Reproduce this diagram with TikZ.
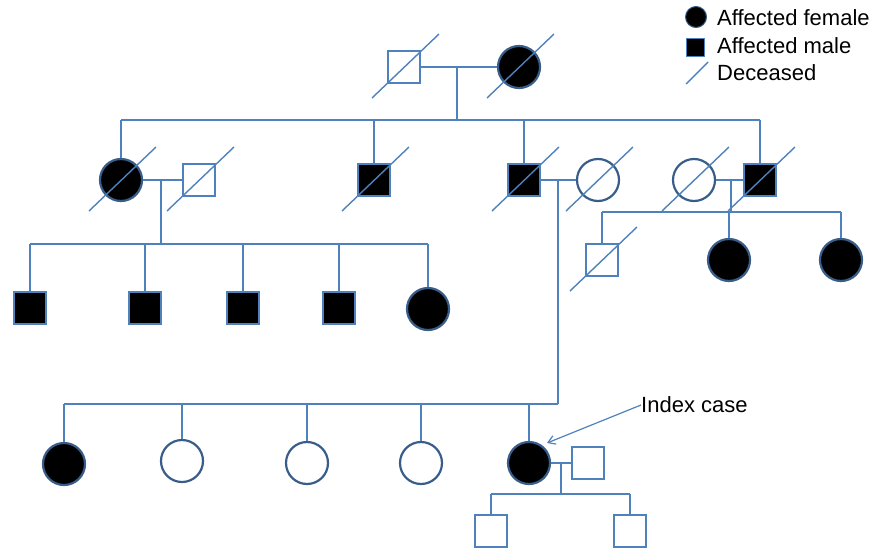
\documentclass[tikz,border=0pt]{standalone}
\usepackage{fontspec}
\setmainfont{Liberation Sans}
\usetikzlibrary{arrows.meta}
\definecolor{lineblue}{HTML}{4F81BD}
\definecolor{darkblue}{HTML}{385D8A}
\tikzset{
  conn/.style={draw=lineblue, line width=1.4pt},
  slash/.style={draw=lineblue, line width=1.4pt},
  male/.style={rectangle, draw=lineblue, line width=2.2pt, fill=white, minimum size=32pt, inner sep=0pt},
  fem/.style={circle, draw=darkblue, line width=2.2pt, fill=white, minimum size=42pt, inner sep=0pt},
  aff/.style={fill=black},
  lbl/.style={font=\fontsize{22}{26}\selectfont, anchor=west, inner sep=0pt}
}
\newcommand{\dead}[1]{\draw[slash] ([shift={(-32,31)}]#1.center) -- ([shift={(35,-33)}]#1.center);}
\begin{document}
\begin{tikzpicture}[x=1pt,y=-1pt]
\useasboundingbox (0,0) rectangle (878,549);
% coordinates of junctions
\coordinate (m1) at (457,67);
\coordinate (s1l) at (121,120);
\coordinate (s1r) at (760,120);
\coordinate (s1m) at (457,120);
\coordinate (m2) at (161,180);
\coordinate (s2m) at (161,244);
\coordinate (s2l) at (30,244);
\coordinate (s2r) at (428,244);
\coordinate (m3) at (558,180);
\coordinate (s3m) at (558,404);
\coordinate (s3l) at (64,404);
\coordinate (m4) at (731,180);
\coordinate (s4m) at (731,212);
\coordinate (s4l) at (602,212);
\coordinate (s4r) at (841,212);
\coordinate (m5) at (561,463);
\coordinate (s5m) at (561,494);
\coordinate (s5l) at (491,494);
\coordinate (s5r) at (630,494);

% connectors (drawn first)
\draw[conn] (s1l) -- (s1r);
\draw[conn] (m1) -- (s1m);
\draw[conn] (s2l) -- (s2r);
\draw[conn] (m2) -- (s2m);
\draw[conn] (s3l) -- (s3m);
\draw[conn] (m3) -- (s3m);
\draw[conn] (s4l) -- (s4r);
\draw[conn] (m4) -- (s4m);
\draw[conn] (s5l) -- (s5r);
\draw[conn] (m5) -- (s5m);

% Generation I
\node[male] (I1) at (404,67) {};
\node[fem,aff] (I2) at (519,67) {};
\draw[conn] (I1) -- (I2);
\dead{I1}
\dead{I2}

% Generation II
\node[fem,aff] (II1) at (121,180) {};
\node[male] (II2) at (199,180) {};
\node[male,aff] (II3) at (374,180) {};
\node[male,aff] (II4) at (524,180) {};
\node[fem] (II5) at (598,180) {};
\node[fem] (II6) at (694,180) {};
\node[male,aff] (II7) at (760,180) {};
\draw[conn] (II1) -- (II2);
\draw[conn] (II4) -- (II5);
\draw[conn] (II6) -- (II7);
\draw[conn] (s1l) -- (II1);
\draw[conn] (II3 |- s1l) -- (II3);
\draw[conn] (II4 |- s1l) -- (II4);
\draw[conn] (s1r) -- (II7);
\dead{II1}
\dead{II2}
\dead{II3}
\dead{II4}
\dead{II5}
\dead{II6}
\dead{II7}

% Generation III left
\node[male,aff] (III1) at (30,308) {};
\node[male,aff] (III2) at (145,308) {};
\node[male,aff] (III3) at (243,308) {};
\node[male,aff] (III4) at (339,308) {};
\node[fem,aff] (III5) at (428,309) {};
\draw[conn] (s2l) -- (III1);
\draw[conn] (III2 |- s2l) -- (III2);
\draw[conn] (III3 |- s2l) -- (III3);
\draw[conn] (III4 |- s2l) -- (III4);
\draw[conn] (s2r) -- (III5);

% Generation III right
\node[male] (III6) at (602,260) {};
\node[fem,aff] (III7) at (729,260) {};
\node[fem,aff] (III8) at (841,260) {};
\draw[conn] (s4l) -- (III6);
\draw[conn] (III7 |- s4l) -- (III7);
\draw[conn] (s4r) -- (III8);
\dead{III6}

% Generation IV
\node[fem,aff] (IV1) at (64,464) {};
\node[fem] (IV2) at (182,461) {};
\node[fem] (IV3) at (307,463) {};
\node[fem] (IV4) at (421,463) {};
\node[fem,aff] (IV5) at (529,463) {};
\node[male] (IV6) at (588,463) {};
\draw[conn] (s3l) -- (IV1);
\draw[conn] (IV2 |- s3l) -- (IV2);
\draw[conn] (IV3 |- s3l) -- (IV3);
\draw[conn] (IV4 |- s3l) -- (IV4);
\draw[conn] (IV5 |- s3l) -- (IV5);
\draw[conn] (IV5) -- (IV6);

% Generation V
\node[male] (V1) at (491,531) {};
\node[male] (V2) at (630,531) {};
\draw[conn] (s5l) -- (V1);
\draw[conn] (s5r) -- (V2);

% Index case
\node[lbl] (idx) at (641,405) {Index case};
\draw[conn, line width=1.2pt, -{Straight Barb[length=7pt,width=9pt]}] (idx.west) -- (547,443);

% Legend
\node[circle, fill=black, draw=darkblue, line width=1pt, minimum size=21pt, inner sep=0pt] (lg1) at (696,17) {};
\node[rectangle, fill=black, draw=lineblue, line width=1pt, minimum size=18pt, inner sep=0pt] (lg2) at (695,47) {};
\coordinate (lg3a) at (686,84);
\coordinate (lg3b) at (708,62);
\draw[slash] (lg3a) -- (lg3b);
\node[lbl] (t1) at (717,18) {Affected female};
\node[lbl] (t2) at (717,46) {Affected male};
\node[lbl] (t3) at (717,73) {Deceased};
\end{tikzpicture}
\end{document}
